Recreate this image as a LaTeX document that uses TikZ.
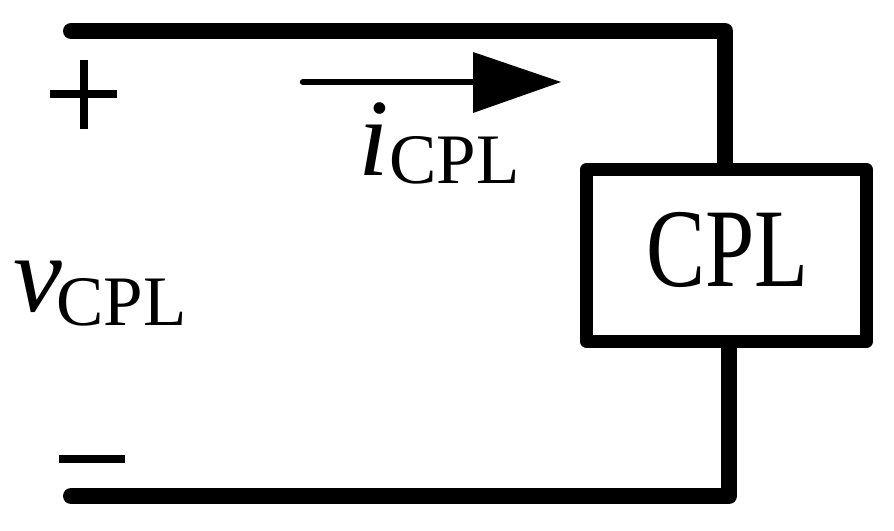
\documentclass[tikz,border=0pt]{standalone}
\usepackage{fontspec}
\setmainfont{Liberation Serif}
\begin{document}
\begin{tikzpicture}[x=1pt,y=-1pt,
  wire/.style={line width=16pt,line cap=round,line join=round,draw=black},
  lab/.style={inner sep=0pt,text=black},
  sym/.style={line width=8pt,draw=black,line cap=butt}]
\useasboundingbox (0,0) rectangle (894,530);
\fill[white] (0,0) rectangle (894,530);
\node[draw=black,line width=13pt,line join=round,minimum width=280pt,minimum height=172pt,inner sep=0pt] (load) at (726.5,255.5) {};
\node[lab,anchor=base,font=\fontsize{112pt}{112pt}\selectfont,xscale=.79] (loadtext) at (727.5,286) {CPL};
\coordinate (tl) at (71,31);
\coordinate (tr) at (725,31);
\coordinate (bl) at (71,496);
\coordinate (br) at (729,496);
\draw[wire,line cap=butt] (tr |- load.north) -- (tr);
\draw[wire,line cap=butt] (br |- load.south) -- (br);
\draw[wire] (tl) -- (tr) -- ++(0,20);
\draw[wire] (bl) -- (br) -- ++(0,-20);
\coordinate (as) at (303,82);
\coordinate (ae) at (561,82);
\draw[line width=6.5pt,line cap=round] (as) -- (480,82);
\fill (ae) -- (473,52) -- (473,113) -- cycle;
\draw[sym] (50,94) -- (117,94) (84,60) -- (84,129);
\draw[sym] (59,459) -- (125,459);
\node[lab,anchor=base west,font=\fontsize{110pt}{110pt}\selectfont\itshape] (il) at (358,175) {i};
\node[lab,anchor=base west,font=\fontsize{71pt}{71pt}\selectfont] (ilsub) at (389,183) {CPL};
\node[lab,anchor=base west,font=\fontsize{110pt}{110pt}\selectfont\itshape] (vl) at (13,311) {v};
\node[lab,anchor=base west,font=\fontsize{71pt}{71pt}\selectfont] (vlsub) at (56,325) {CPL};
\end{tikzpicture}
\end{document}
